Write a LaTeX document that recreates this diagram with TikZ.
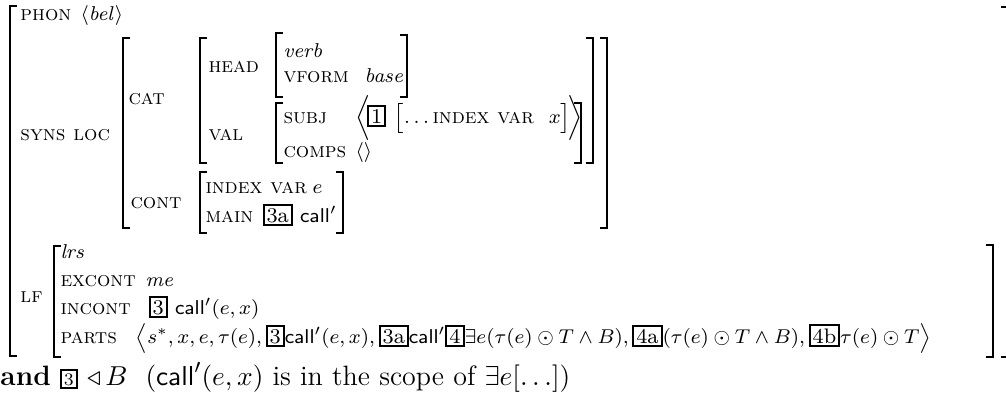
\documentclass[tikz,border=0pt]{standalone}
\newcommand{\tg}[1]{{\setlength{\fboxrule}{0.8pt}\setlength{\fboxsep}{0.8pt}\fbox{#1}}}
\newcommand{\tgs}[1]{{\scriptsize\setlength{\fboxrule}{0.8pt}\setlength{\fboxsep}{0.8pt}\fbox{#1}}}
\newcommand{\lbrk}[3]{\draw[brk] (#1+7,#2) -- (#1,#2) -- (#1,#3) -- (#1+7,#3);}
\newcommand{\rbrk}[3]{\draw[brk] (#1-7,#2) -- (#1,#2) -- (#1,#3) -- (#1-7,#3);}
\tikzset{
  lbl/.style={anchor=base west, inner sep=0pt, font=\fontsize{8.4}{10}\selectfont\scshape},
  val/.style={anchor=base west, inner sep=0pt, font=\fontsize{8.4}{10}\selectfont},
  txt/.style={anchor=base west, inner sep=0pt, font=\fontsize{11.2}{13}\selectfont},
  brk/.style={line width=0.6pt, line cap=butt}
}
\begin{document}
\begin{tikzpicture}[x=0.4pt,y=-0.4pt]
\useasboundingbox (0,0) rectangle (1006,407);
% brackets
\lbrk{10}{6}{356}
\rbrk{1008}{7}{357}
\lbrk{123}{38}{228}
\rbrk{607}{38}{228}
\lbrk{200}{38}{163}
\rbrk{593}{38}{163}
\lbrk{276}{33}{97}
\rbrk{407}{35}{97}
\lbrk{276}{103}{163}
\rbrk{581}{103}{163}
\lbrk{200}{172}{233}
\rbrk{343}{172}{233}
\lbrk{54}{246}{357}
\rbrk{993}{245}{357}
% texts
\node[lbl] (phon) at (20,20) {phon};
\node[val] (phonv) at (80,20) {$\langle \mathit{bel}\rangle$};
\node[lbl] (syns) at (20,140) {syns loc};
\node[lbl] (cat) at (128,104) {cat};
\node[lbl] (head) at (208,72) {head};
\node[val] (verb) at (283,57) {$\mathit{verb}$};
\node[lbl] (vform) at (283,82) {vform};
\node[val] (base) at (364,82) {$\mathit{base}$};
\node[lbl] (val) at (208,140) {val};
\node[lbl] (subj) at (283,123) {subj};
\node[val] (subjv) at (355,123) {$\Bigl\langle\! \tg{1}\ \bigl[\ldots\textsc{index var}\ \ x\bigr]\!\Bigr\rangle$};
\node[lbl] (comps) at (283,157) {comps};
\node[val] (compsv) at (355,157) {$\langle\rangle$};
\node[lbl] (cont) at (130,208) {cont};
\node[lbl] (index) at (205,193) {index var};
\node[val] (evar) at (312,193) {$e$};
\node[lbl] (main) at (205,222) {main};
\node[val] (mainv) at (262,222) {\tg{3a}\ $\mathsf{call}'$};
\node[lbl] (lf) at (20,302) {lf};
\node[val] (lrs) at (60,258) {$\mathit{lrs}$};
\node[lbl] (excont) at (60,286) {excont};
\node[val] (me) at (145,286) {$\mathit{me}$};
\node[lbl] (incont) at (60,314) {incont};
\node[val] (incv) at (148,314) {\tg{3}\ $\mathsf{call}'(e,x)$};
\node[lbl] (parts) at (60,343) {parts};
\node[val] (partsv) at (135,343) {$\bigl\langle s^*, x, e, \tau(e), \tg{3}\mathsf{call}'(e,x), \tg{3a}\mathsf{call}'\tg{4}\exists e(\tau(e)\odot T\wedge B), \tg{4a}(\tau(e)\odot T\wedge B), \tg{4b}\tau(e)\odot T\bigr\rangle$};
\node[txt] (and) at (0,385) {\textbf{and} \tgs{3} $\triangleleft\, B$};
\node[txt] (scope) at (145,385) {$(\mathsf{call}'(e,x)$ is in the scope of $\exists e[\ldots])$};
\end{tikzpicture}
\end{document}
